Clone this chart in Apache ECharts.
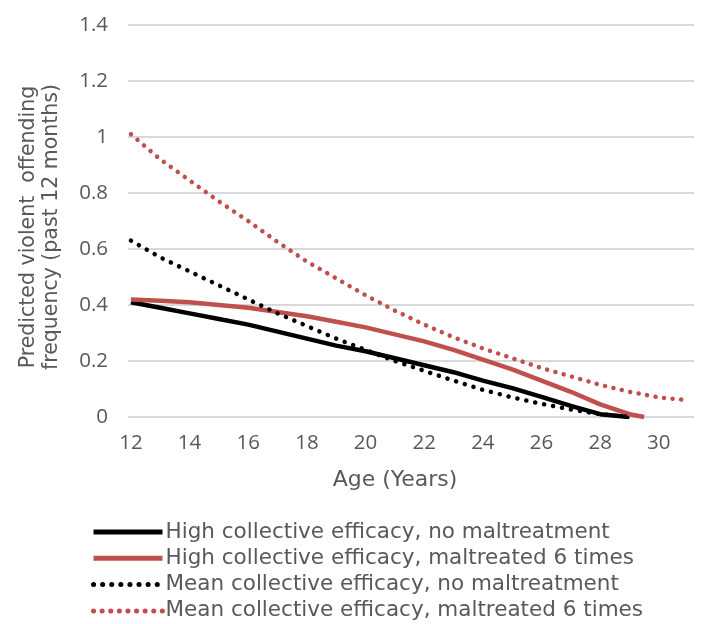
<!DOCTYPE html>
<html><head><meta charset="utf-8">
<script src="https://cdn.jsdelivr.net/npm/echarts@6/dist/echarts.min.js"></script>
<style>html,body{margin:0;padding:0;background:#fff}#c{width:705px;height:624px}</style>
</head><body><div id="c"></div>
<script>
const ages = [12,13,14,15,16,17,18,19,20,21,22,23,24,25,26,27,28,29,29.5,30,31];
const highNoMal   = [0.41,0.39,0.37,0.35,0.33,0.305,0.28,0.255,0.235,0.21,0.185,0.16,0.13,0.103,0.072,0.04,0.01,0,null,null,null];
const highMal6    = [0.42,0.415,0.41,0.40,0.39,0.375,0.36,0.34,0.32,0.295,0.27,0.24,0.205,0.17,0.13,0.09,0.045,0.01,0,null,null];
const meanNoMal   = [0.63,0.57,0.52,0.47,0.42,0.37,0.325,0.28,0.24,0.2,0.165,0.13,0.097,0.07,0.047,0.027,0.01,0,null,null,null];
const meanMal6    = [1.01,0.92,0.845,0.77,0.70,0.625,0.555,0.495,0.435,0.38,0.33,0.285,0.245,0.21,0.175,0.145,0.115,0.09,0.08,0.07,0.06];
const xTicks = [12,14,16,18,20,22,24,26,28,30];
const seriesNames = [
  'High collective efficacy, no maltreatment',
  'High collective efficacy, maltreated 6 times',
  'Mean collective efficacy, no maltreatment',
  'Mean collective efficacy, maltreated 6 times'
];
const pair = v => ages.map((a,i)=>[a,v[i]]).filter(p=>p[1]!==null);
const FONT = 'DejaVu Sans';
const NUMFONT = 'Open Sans';
const GRAY = '#595959';
const chart = echarts.init(document.getElementById('c'), null, {renderer:'canvas'});
chart.setOption({
  animation:false,
  textStyle:{fontFamily:FONT},
  grid:{left:128,right:11,top:25,bottom:207,containLabel:false},
  xAxis:{
    type:'value', min:11.9, max:31.2,
    name:'Age (Years)', nameLocation:'middle', nameGap:52,
    nameTextStyle:{color:GRAY,fontSize:22,fontFamily:FONT,padding:[0,32,0,0]},
    axisLine:{show:false}, axisTick:{show:false}, splitLine:{show:false},
    axisLabel:{customValues:xTicks,color:GRAY,fontSize:20.5,fontFamily:NUMFONT,margin:16}
  },
  yAxis:{
    type:'value', min:0, max:1.4, interval:0.2,
    name:'Predicted violent  offending\nfrequency (past 12 months)',
    nameLocation:'middle', nameGap:65, nameRotate:90,
    nameTextStyle:{color:GRAY,fontSize:20.5,fontFamily:FONT,lineHeight:23,padding:[0,12,0,0]},
    axisLine:{show:false}, axisTick:{show:false},
    splitLine:{lineStyle:{color:'#d9d9d9',width:2}},
    axisLabel:{color:GRAY,fontSize:20.5,fontFamily:NUMFONT,margin:20,
      formatter:v=>String(Math.round(v*10)/10)}
  },
  legend:{
    orient:'vertical', left:91, top:521, padding:0, height:110,
    itemWidth:69, itemHeight:20, itemGap:4.3,
    itemStyle:{color:'rgba(0,0,0,0)',borderWidth:0,opacity:0},
    lineStyle:{width:5},
    textStyle:{color:GRAY,fontSize:21.5,fontFamily:FONT,lineHeight:20,padding:[0,0,0,-2]},
    data:seriesNames
  },
  series:[
    {name:seriesNames[0],type:'line',data:pair(highNoMal),symbol:'none',
     lineStyle:{color:'#000',width:4.5},itemStyle:{color:'#000'}},
    {name:seriesNames[1],type:'line',data:pair(highMal6),symbol:'none',
     lineStyle:{color:'#C0504D',width:4.5},itemStyle:{color:'#C0504D'}},
    {name:seriesNames[2],type:'line',data:pair(meanNoMal),symbol:'none',
     lineStyle:{color:'#000',width:4.5,type:[0.1,9],cap:'round'},itemStyle:{color:'#000'}},
    {name:seriesNames[3],type:'line',data:pair(meanMal6),symbol:'none',
     lineStyle:{color:'#C0504D',width:4.5,type:[0.1,8.5],cap:'round'},itemStyle:{color:'#C0504D'}}
  ]
});
</script></body></html>
